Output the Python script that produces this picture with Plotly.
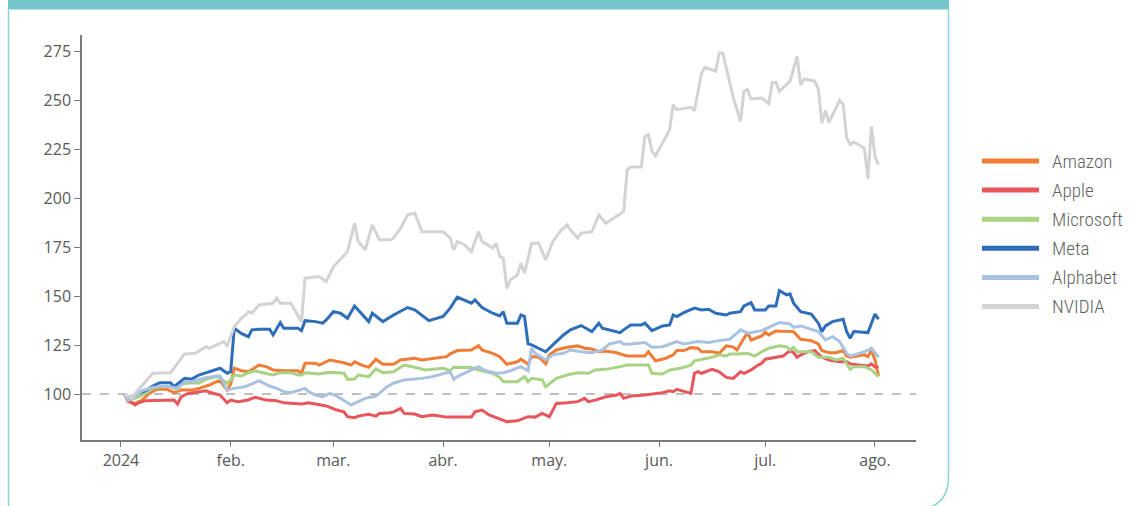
import plotly.graph_objects as go

# ---------------- data (index, 2 Jan 2024 = 100) ----------------
series_names = ["Amazon", "Apple", "Microsoft", "Meta", "Alphabet", "NVIDIA"]

amazon_days = ["01-02","01-03","01-05","01-07","01-09","01-11","01-14","01-16","01-18","01-21","01-23","01-26","01-28","01-29","01-31",
               "02-01","02-02","02-04","02-06","02-09","02-11","02-13","02-16","02-20","02-21","02-22","02-25","02-26","02-29",
               "03-04","03-06","03-07","03-09","03-11","03-13","03-15","03-18","03-20","03-24","03-26",
               "04-02","04-03","04-05","04-09","04-11","04-12","04-15","04-17","04-19","04-22","04-23","04-25","04-26","04-28","04-30",
               "05-01","05-03","05-06","05-09","05-11","05-13","05-15","05-17","05-20","05-23","05-28","05-29","05-31",
               "06-03","06-05","06-06","06-08","06-10","06-12","06-13","06-16","06-18","06-20","06-22","06-23","06-25","06-26","06-27","06-30",
               "07-01","07-02","07-04","07-07","07-09","07-11","07-14","07-16","07-17","07-19","07-21","07-23","07-24","07-25","07-27","07-29","07-30","07-31",
               "08-01","08-02"]
amazon = [100,96.1,95.2,96.9,100.3,102.4,102.4,100.7,102,102,102.9,104.6,106.3,106.7,102,
          105.1,113.2,111.9,111.4,114.8,114,112.3,111.9,111.9,110.6,115.7,115.7,114.8,117.4,
          116,114.8,116.5,114.8,113.7,117.8,115.2,115.2,117.4,118.3,117.4,
          119.1,120.5,122.2,122.5,124.7,122.5,120.8,119.1,115.2,116.5,117.8,115.2,119.1,118.9,115.4,
          120,122.5,123.9,124.6,123.4,123,121.6,122,121.1,119.4,119.4,121.6,117,
          118.3,120,122.2,122.2,123.7,123.4,121.6,121.6,120.8,124.6,124,122.5,128.5,131.4,127.6,129.7,
          131.6,130.2,132.2,131.9,131.9,128,127.3,125.6,122.2,121.1,121.1,122.2,119.4,118.8,119.4,120,119.1,122.2,
          117.4,109.2]

apple_days = ["01-02","01-03","01-05","01-06","01-08","01-12","01-16","01-17","01-18","01-20","01-23","01-25","01-26","01-29","01-31",
              "02-01","02-03","02-06","02-07","02-08","02-11","02-14","02-16","02-18","02-21","02-23","02-26","02-28",
              "03-02","03-04","03-05","03-07","03-08","03-11","03-13","03-14","03-17","03-18","03-20","03-21","03-24","03-26","03-29",
              "04-02","04-06","04-09","04-10","04-12","04-14","04-17","04-19","04-22","04-25","04-27","04-29",
              "05-01","05-03","05-06","05-09","05-11","05-12","05-14","05-17","05-20","05-21","05-22","05-24","05-28","05-31",
              "06-02","06-04","06-05","06-06","06-08","06-10","06-11","06-12","06-13","06-16","06-18","06-20","06-22","06-24","06-25","06-27","06-29","06-30",
              "07-01","07-04","07-06","07-08","07-09","07-10","07-11","07-13","07-15","07-17","07-19","07-22","07-24","07-25","07-29","07-30","07-31",
              "08-01","08-02"]
apple = [100,96.9,94.4,95.5,96.6,96.9,96.9,94.9,98.6,100.3,101.2,101.7,100.9,99.5,95.5,
         96.9,96.1,96.9,97.8,98.3,96.9,96.6,95.5,95.2,94.9,95.5,94.4,93.9,
         91.8,90.9,88.4,87.9,88.7,89.6,88.7,90.1,90.4,90.9,92.7,90.1,89.8,88.4,89.3,
         88.2,88.2,88.2,90.9,91.8,89.3,87.1,85.9,86.3,88.4,88.2,90.1,
         88.4,95.2,95.5,96.1,97.8,96.1,96.9,98.6,99.5,100.3,97.8,99,99.5,100.3,
         100.7,101.7,101.2,102.4,101.2,100.3,110.6,111.4,110.6,112.6,111.4,108.5,108,111.4,110.6,112.3,114.8,115.7,
         117.8,118.8,119.4,122.2,121.1,118.8,120,121.6,122.2,118.8,117.4,116.5,116.5,115.4,114.8,114.3,115.4,
         113.7,114]

microsoft_days = ["01-02","01-03","01-05","01-08","01-10","01-12","01-15","01-17","01-18","01-21","01-23","01-25","01-28","01-29","01-31",
                  "02-01","02-02","02-04","02-06","02-08","02-10","02-13","02-15","02-18","02-20","02-21","02-22","02-26","02-29",
                  "03-04","03-05","03-07","03-08","03-11","03-13","03-15","03-18","03-20","03-21","03-24","03-27",
                  "04-01","04-03","04-04","04-09","04-11","04-15","04-17","04-18","04-22","04-24","04-25","04-26","04-29","04-30",
                  "05-03","05-06","05-09","05-12","05-14","05-17","05-21","05-23","05-29","05-30",
                  "06-02","06-04","06-07","06-10","06-11","06-13","06-16","06-18","06-20","06-21","06-23","06-26","06-28","06-30",
                  "07-02","07-05","07-07","07-08","07-09","07-10","07-14","07-16","07-19","07-21","07-23","07-25","07-26","07-29","07-31",
                  "08-02"]
microsoft = [100,96.9,97.8,100.3,102.9,103.7,103.7,102.4,105.1,105.8,105.5,107.5,108.9,108,105.5,
             107.2,109.7,109.2,110.9,111.9,110.9,109.7,110.9,110.9,109.7,109.7,110.9,110.2,111.1,
             110.6,107.5,107.7,109.7,108.9,112.8,110.9,111.4,113.7,114.8,113.7,112.3,
             113.2,111.9,113.7,113.5,112.3,110.6,108.5,106.3,106.3,108.9,106.3,108,107.2,103.7,
             108,109.7,110.9,110.6,112.3,112.6,114,114.8,114.8,110.6,
             110.2,112.3,113.2,114.8,117,117.8,118.8,120,119.4,120.5,120.4,120.8,119.4,121.6,
             123.4,124.6,124.2,122.5,123.9,121.6,121.6,118.8,118.8,117.4,118.3,112.6,114,114,112.3,
             108.9]

meta_days = ["01-02","01-03","01-06","01-08","01-10","01-12","01-15","01-16","01-19","01-21","01-23","01-25","01-27","01-29","01-31",
             "02-01","02-02","02-04","02-06","02-07","02-09","02-12","02-13","02-15","02-16","02-20","02-21","02-22","02-25","02-27","02-28",
             "03-01","03-03","03-05","03-07","03-11","03-12","03-15","03-18","03-22","03-24","03-28",
             "04-01","04-03","04-05","04-09","04-10","04-12","04-15","04-17","04-18","04-19","04-22","04-23","04-24","04-25","04-26","04-30",
             "05-02","05-05","05-07","05-10","05-13","05-15","05-16","05-21","05-22","05-24","05-27","05-28","05-30",
             "06-02","06-04","06-05","06-06","06-08","06-11","06-13","06-15","06-17","06-20","06-21","06-24","06-25","06-27","06-28",
             "07-01","07-02","07-04","07-05","07-07","07-08","07-09","07-11","07-14","07-16","07-17","07-18","07-20","07-23","07-24","07-25","07-26","07-30",
             "08-01","08-02"]
meta = [100,97.8,100.4,101.7,104.1,105.8,105.8,103.7,108,107.6,109.7,110.9,112.3,113.2,110.6,
        111.4,133.6,131,129.3,132.8,133.1,133.1,130.2,136.5,133.6,133.6,132.4,137.5,137,136.2,137.9,
        142.1,141.3,138.7,145,137,141.3,137,140.4,144.2,143,137.5,
        139.6,143.9,149.5,146.4,148.1,144.2,141.3,139.9,142.1,136.2,136.2,140.4,139.6,125.6,125.1,121.6,
        125.1,130.2,132.8,135,131.9,136.2,133.6,131.4,132.8,135.3,135.3,136.2,132.4,
        134.8,135.3,140.4,139.6,141.6,143.9,143,143.3,141.3,140.4,141.3,142.1,145,146.7,143,
        143,145,145,152.9,150.7,151.2,146.4,142.1,140.9,136.2,131.9,134.8,137,138.2,131.9,128.5,131.9,131.4,
        140.9,138.2]

alphabet_days = ["01-02","01-03","01-05","01-07","01-10","01-14","01-17","01-19","01-21","01-23","01-25","01-28","01-29","01-31",
                 "02-01","02-02","02-05","02-07","02-09","02-10","02-12","02-14","02-16","02-18","02-20","02-22","02-23","02-25","02-27","02-29",
                 "03-02","03-04","03-06","03-08","03-10","03-13","03-14","03-16","03-18","03-21","03-23","03-26","03-29",
                 "04-01","04-03","04-04","04-05","04-08","04-11","04-13","04-16","04-18","04-20","04-23","04-25","04-26","04-27","04-30",
                 "05-02","05-05","05-07","05-10","05-13","05-16","05-18","05-21","05-22","05-24","05-28","05-30",
                 "06-02","06-06","06-08","06-12","06-15","06-18","06-21","06-23","06-24","06-26","06-29","06-30",
                 "07-02","07-05","07-08","07-09","07-11","07-14","07-16","07-18","07-20","07-22","07-24","07-25","07-29","07-31",
                 "08-02"]
alphabet = [100,96.9,98.6,101.7,103.4,104.1,102.9,106.3,106.3,107.2,108.3,109.2,109.2,102,
            102.4,102.9,103.7,105.1,106.8,105.8,104.1,102.9,101.2,100.7,102,102.9,101.2,99.5,98.6,100.3,
            99,96.9,94.4,96.1,97.8,99,100.3,103.5,105.5,107.2,107.5,108,108.9,
            110.6,111.4,107.5,108.9,111.4,114,111.9,110.6,110.9,111.9,114,111.9,123.4,120.8,117.4,
            120,120.8,122.5,121.6,121.1,122.5,125.6,126.8,125.4,125.6,126.3,123.9,
            124.2,126.8,125.6,126.8,126.3,127.3,128,131.1,132.8,131.1,131.9,132.4,
            134.1,136.5,135.8,134.1,134.8,133.1,131.9,127.6,129.3,126.8,120.8,119.4,121.6,123.4,
            118.8]

nvidia_days = ["01-02","01-04","01-05","01-10","01-15","01-16","01-19","01-22","01-25","01-26","01-30","01-31",
               "02-02","02-04","02-05","02-06","02-07","02-09","02-13","02-14","02-15","02-18","02-21","02-22","02-26","02-28",
               "03-01","03-05","03-07","03-08","03-10","03-12","03-14","03-17","03-18","03-20","03-22","03-24","03-26",
               "04-01","04-03","04-04","04-05","04-07","04-09","04-11","04-12","04-15","04-16","04-17","04-18","04-19","04-20","04-22","04-23","04-24","04-26","04-28","04-30",
               "05-02","05-04","05-06","05-07","05-09","05-10","05-13","05-15","05-17","05-21","05-22","05-23","05-24","05-27","05-28","05-29","05-30","05-31",
               "06-04","06-05","06-06","06-10","06-11","06-13","06-14","06-17","06-18","06-19","06-21","06-22","06-24","06-25","06-26","06-27","06-30",
               "07-02","07-03","07-04","07-05","07-08","07-10","07-11","07-12","07-15","07-16","07-17","07-18","07-19","07-22","07-23","07-24","07-25","07-26","07-29","07-30","07-31",
               "08-01","08-02"]
nvidia = [100,98,100.3,110.6,110.9,113.3,120.5,120.8,124.2,123.4,126.8,124.7,
          134.4,138.7,139.9,142.1,141.3,145.5,146.4,149,146.4,146.4,137,159.2,160,157.5,
          165,172.8,187.4,178,173.7,186.5,178.8,178.8,179.7,184.8,191.6,192.5,183,
          183,179.7,173.7,178,176.3,172.8,183,178,174.6,177,170.3,169.5,154,158.3,160.9,166.9,161.8,177,177,168.6,
          178,183,186.5,183.9,179.7,182.2,183,191.6,187.3,192.4,193.3,214.6,216,216,231.7,232.5,224,221.8,
          235,247.9,245.3,246.5,244.8,264,267,265,274.3,274.3,259,251.3,239.4,254.7,255.6,250.8,251.3,
          248.4,259.3,259.3,254.7,259.9,272.6,258,261,259.9,255.6,238.5,245,238.9,250.1,247.9,230.9,227.4,228.8,225.7,209.9,236.8,
          221.4,217.2]

series_days = [amazon_days, apple_days, microsoft_days, meta_days, alphabet_days, nvidia_days]
series_vals = [amazon, apple, microsoft, meta, alphabet, nvidia]
colors = ["#EF7D35", "#E8555B", "#A8D284", "#2E6DB9", "#A9C2DF", "#D3D3D3"]

y_ticks = [100, 125, 150, 175, 200, 225, 250, 275]
x_tick_dates = ["2024-01-01", "2024-02-01", "2024-03-01", "2024-04-01", "2024-05-01", "2024-06-01", "2024-07-01", "2024-08-01"]
x_tick_text = ["2024", "feb.", "mar.", "abr.", "may.", "jun.", "jul.", "ago."]

# ---------------- layout geometry (pixels) ----------------
W, H = 1137, 506
L, R, T, B = 82, 916, 35, 440


def px(x):
    return (x - L) / (R - L)


def py(y):
    return (B - y) / (B - T)


fig = go.Figure()
for name, days, vals, col in zip(series_names, series_days, series_vals, colors):
    fig.add_trace(go.Scatter(
        x=[f"2024-{d}" for d in days], y=vals, name=name, mode="lines",
        line=dict(color=col, width=3), showlegend=False,
    ))

shapes = [
    # reference line at 100
    dict(type="line", xref="paper", yref="y", x0=0, x1=1, y0=100, y1=100,
         line=dict(color="#808080", width=1.2, dash="dash"), layer="below"),
    # teal header bar
    dict(type="rect", xref="paper", yref="paper", x0=px(8), x1=px(949), y0=py(0), y1=py(9.5),
         fillcolor="#74C6CA", line=dict(width=0), layer="below"),
    # left frame line
    dict(type="line", xref="paper", yref="paper", x0=px(8.5), x1=px(8.5), y0=py(9), y1=py(510),
         line=dict(color="#8ED2D5", width=1.5)),
    # right frame line with rounded bottom corner
    dict(type="path", xref="paper", yref="paper",
         path=(f"M {px(948.5)},{py(9)} L {px(948.5)},{py(476)} "
               f"Q {px(948.5)},{py(509)} {px(916)},{py(509)}"),
         line=dict(color="#8ED2D5", width=1.5)),
]

annotations = []
leg_y0, leg_dy = 161, 29.1
for i, (name, col) in enumerate(zip(series_names, colors)):
    yy = leg_y0 + i * leg_dy
    shapes.append(dict(type="line", xref="paper", yref="paper", x0=px(982), x1=px(1039), y0=py(yy), y1=py(yy),
                       line=dict(color=col, width=5)))
    annotations.append(dict(xref="paper", yref="paper", x=px(1050), y=py(yy), text=name, showarrow=False,
                            xanchor="left", yanchor="middle",
                            font=dict(family="Liberation Sans Narrow, Roboto Condensed, Roboto, sans-serif",
                                      size=19, color="#5f5f5f", weight=300)))

axis_font = dict(family="Open Sans, sans-serif", size=16, color="#595959")
fig.update_layout(
    width=W, height=H,
    margin=dict(l=L, r=W - R, t=T, b=H - B),
    paper_bgcolor="white", plot_bgcolor="white",
    shapes=shapes, annotations=annotations,
    xaxis=dict(range=["2023-12-21", "2024-08-12 14:00"], tickvals=x_tick_dates, ticktext=x_tick_text,
               showgrid=False, zeroline=False, showline=True, linecolor="#7a7a7a", linewidth=1.5,
               ticks="outside", ticklen=5, tickcolor="#7a7a7a", tickfont=axis_font),
    yaxis=dict(range=[76.5, 283.5], tickvals=y_ticks, showgrid=False, zeroline=False, showline=True,
               linecolor="#7a7a7a", linewidth=1.5, ticks="outside", ticklen=6, tickcolor="#7a7a7a",
               tickfont=axis_font),
    showlegend=False,
)

fig.write_html("out.html", config={"displayModeBar": False},
               post_script="document.body.style.margin='0';document.body.style.overflow='hidden';")
